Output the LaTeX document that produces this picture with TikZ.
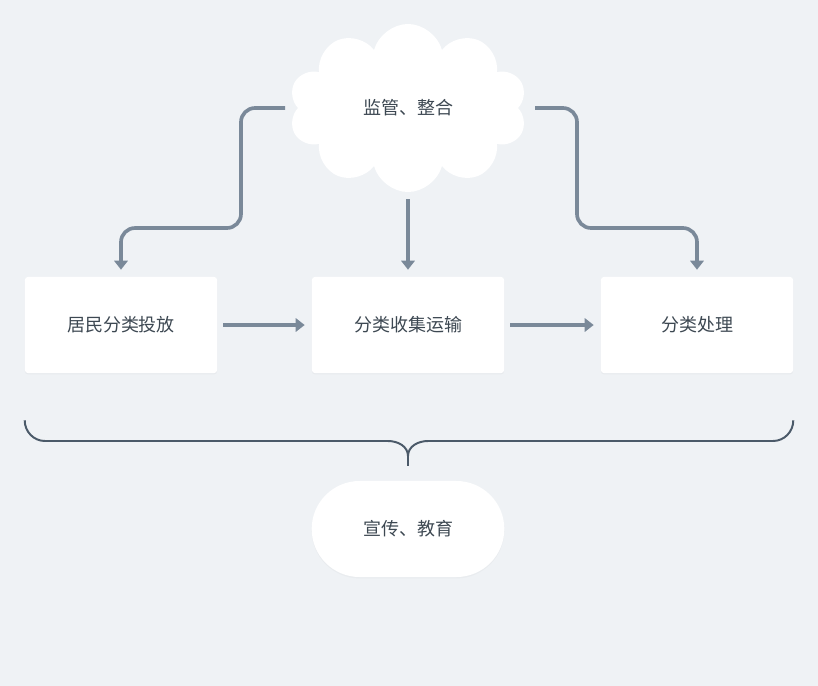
\documentclass[tikz,border=0pt]{standalone}
\usepackage{fontspec}
\newfontfamily\cjk{Noto Sans CJK SC}
\usepackage{tikz}
\usetikzlibrary{positioning, calc, arrows.meta, shapes.symbols, shapes.misc, shadows}
\definecolor{bgc}{HTML}{EFF2F5}
\definecolor{flowc}{HTML}{7A8999}
\definecolor{bracec}{HTML}{4B5A69}
\definecolor{txtc}{HTML}{3D4852}
\tikzset{stepbox/.style = {rectangle,fill=white,rounded corners=2pt,minimum width=4.8cm,minimum height=2.4cm,
            drop shadow={opacity=0.06,shadow xshift=0pt,shadow yshift=-1pt}},
         pill/.style = {rounded rectangle,fill=white,minimum width=5.05cm,minimum height=2.4cm,
            drop shadow={opacity=0.05,shadow xshift=0pt,shadow yshift=-1pt}},
         flow/.style = {draw=flowc,line width=2.6pt,rounded corners=10pt,-{Triangle[length=6.4pt,width=9.5pt]}},
         brace/.style = {draw=bracec,line width=1.4pt}}

\begin{document}
\begin{tikzpicture}[x=0.025cm,y=-0.025cm,every node/.style={text=txtc,font=\cjk\fontsize{12.8}{15}\selectfont}]
                \fill[bgc] (0,0) rectangle (818,686);
                \useasboundingbox (0,0) rectangle (818,686);
                \node[cloud,cloud puffs=10,aspect=1.45,fill=white,minimum width=5.95cm,minimum height=4.2cm] (sv) at (408,108) {监管、整合};
                \node[stepbox] (res) at (121,325) {居民分类投放};
                \node[stepbox] (col) at (408,325) {分类收集运输};
                \node[stepbox] (trt) at (697,325) {分类处理};
                \node[pill] (edu) at (408,529) {宣传、教育};
                \draw[flow] ($(sv.center)+(-123,0)$) -| (241,228) -| ($(res.north)+(0,-7)$);
                \draw[flow] ($(sv.center)+(127,0)$) -| (577,228) -| ($(trt.north)+(0,-7)$);
                \draw[flow] ($(sv.center)+(0,91)$) -- ($(col.north)+(0,-7)$);
                \draw[flow] ($(res.east)+(6,0)$) -- ($(col.west)+(-7,0)$);
                \draw[flow] ($(col.east)+(6,0)$) -- ($(trt.west)+(-7,0)$);
                \draw[brace] ($(res.south west)+(0,47)$) to[out=-90,in=180] (45,441) -- (388,441)
                    to[out=0,in=90] (408,456) to[out=90,in=180] (428,441) -- (773,441)
                    to[out=0,in=-90] ($(trt.south east)+(0,47)$);
                \draw[brace] (408,455) -- ($(edu.north)+(0,-15)$);
            \end{tikzpicture}
\end{document}
